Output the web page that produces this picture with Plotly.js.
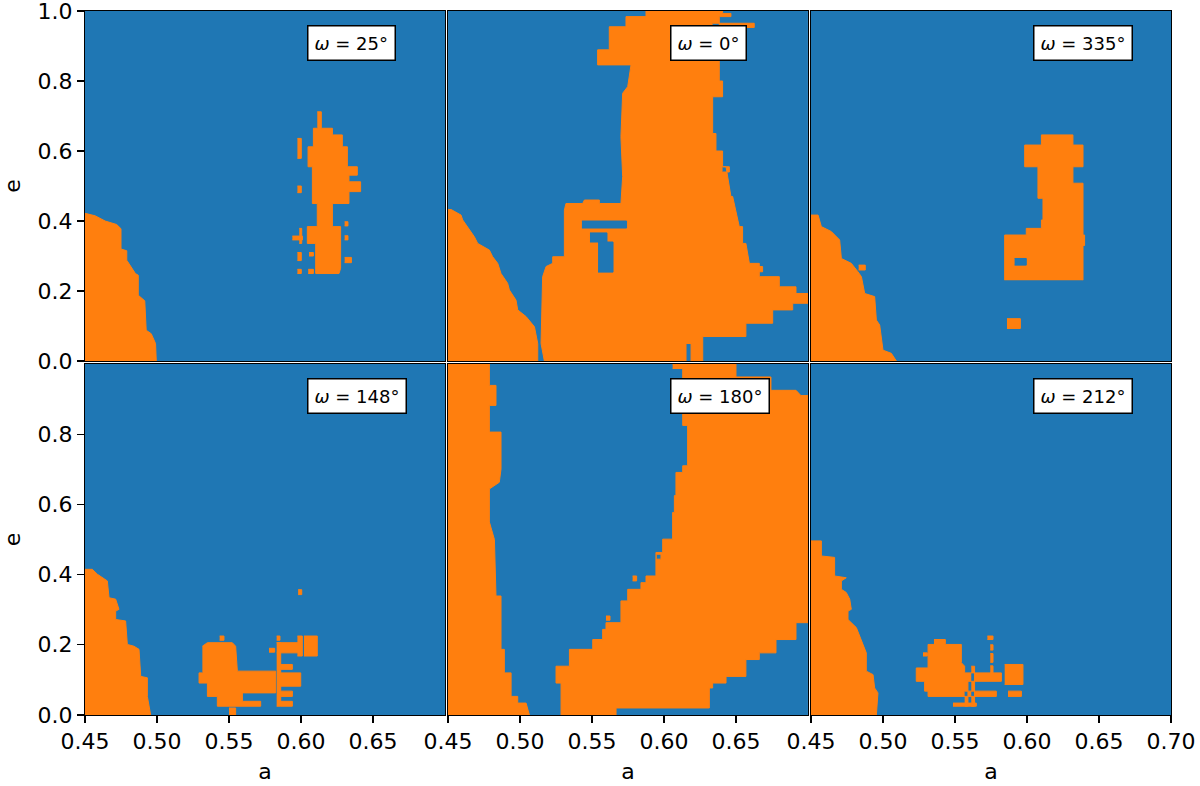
<!DOCTYPE html>
<html>
<head>
<meta charset="utf-8">
<script src="https://cdn.plot.ly/plotly-3.0.1.min.js"></script>
<style>html,body{margin:0;padding:0;background:#fff;}#chart{width:1200px;height:786px;}</style>
</head>
<body>
<div id="chart"></div>
<script>
// ---------- data: orange regions in (a, e) ----------
const omegas = [25, 0, 335, 148, 180, 212];
const xTicks = [0.45, 0.50, 0.55, 0.60, 0.65, 0.70];
const yTicksTop = [0.0, 0.2, 0.4, 0.6, 0.8, 1.0];
const yTicksBottom = [0.0, 0.2, 0.4, 0.6, 0.8];

// omega = 25
const P25_a = [0.45,0.45,0.457,0.464,0.472,0.475,0.475,0.479,0.479,0.485,0.487,0.487,0.4915,0.4925,0.496,0.499,0.4995,null,
  0.6113,0.6141,0.6141,0.6218,0.6218,0.6287,0.6287,0.6322,0.6322,0.6391,0.6391,0.6333,0.6333,0.6414,0.6414,0.6333,0.6333,0.6218,0.6218,0.6275,0.6275,0.6264,0.6102,0.6102,0.6044,0.6044,0.6113,0.6113,0.6079,0.6079,0.6049,0.6049,0.6086,0.6086,0.6113];
const P25_e = [0,0.422,0.415,0.40,0.39,0.378,0.32,0.315,0.288,0.25,0.245,0.188,0.172,0.088,0.078,0.05,0,null,
  0.712,0.712,0.665,0.665,0.646,0.646,0.612,0.612,0.555,0.555,0.531,0.531,0.512,0.512,0.484,0.484,0.45,0.45,0.384,0.384,0.265,0.25,0.25,0.336,0.336,0.384,0.384,0.45,0.45,0.555,0.555,0.612,0.612,0.665,0.665];
const R25 = [[0.5975,0.6002,0.579,0.636],[0.5975,0.6002,0.481,0.5],[0.594,0.601,0.346,0.357],[0.5988,0.6005,0.336,0.379],
  [0.5975,0.6002,0.287,0.31],[0.6056,0.6086,0.30,0.31],[0.5975,0.6002,0.25,0.262],[0.605,0.6086,0.25,0.262],
  [0.6303,0.6326,0.386,0.398],[0.6303,0.6326,0.346,0.358],[0.6303,0.635,0.281,0.296]];
const H25 = [];

// omega = 0
const P0_a = [0.45,0.45,0.4521,0.459,0.4602,0.4683,0.4706,0.4787,0.481,0.4845,0.4868,0.4914,0.4926,0.4972,0.4984,0.5042,0.51,0.5123,0.5123,null,
  0.5169,0.5146,0.5157,0.5181,0.5227,0.5227,0.5308,0.5308,0.5319,0.5435,0.5447,0.5551,0.5551,0.5701,0.5713,0.5701,0.5713,0.5748,0.5771,0.5539,0.5539,0.562,0.562,0.5736,0.5736,0.5875,0.5875,0.6407,0.6407,0.6465,0.6465,0.6384,0.6384,0.6407,0.6407,0.6338,0.6338,0.6361,0.6361,0.6407,0.6407,0.6431,0.6465,0.6477,0.6523,0.6546,0.6546,0.6569,0.6593,0.6662,0.6662,0.6801,0.6801,0.6917,0.6917,0.7,0.7,0.6894,0.6894,0.6755,0.6755,0.6569,0.6569,0.6269,0.6269,0.6188,0.6188,0.6153,0.6153];
const P0_e = [0,0.433,0.433,0.417,0.403,0.355,0.336,0.317,0.298,0.279,0.25,0.222,0.203,0.174,0.146,0.127,0.098,0.05,0,null,
  0,0.05,0.241,0.27,0.279,0.298,0.298,0.431,0.45,0.45,0.46,0.46,0.45,0.45,0.527,0.641,0.765,0.784,0.846,0.846,0.889,0.889,0.955,0.955,0.984,0.984,1,1,0.993,0.993,0.984,0.984,0.8,0.8,0.755,0.755,0.65,0.65,0.6,0.6,0.555,0.555,0.47,0.47,0.384,0.384,0.336,0.336,0.279,0.279,0.241,0.241,0.212,0.212,0.193,0.193,0.165,0.165,0.146,0.146,0.108,0.108,0.07,0.07,0,0,0.05,0.05,0];
const R0 = [[0.6338,0.6627,0.953,0.965],[0.6407,0.6454,0.54,0.555],[0.6662,0.6685,0.255,0.27]];
const H0 = [[0.543,0.574,0.38,0.40],[0.5486,0.5604,0.34,0.366],[0.5542,0.5646,0.254,0.34]];

// omega = 335
const P335_a = [0.45,0.45,0.4549,0.4572,0.4641,0.4699,0.4711,0.478,0.4826,0.485,0.4873,0.4942,0.4954,0.4977,0.5,0.5058,0.5093,null,
  0.5845,0.5845,0.5995,0.5995,0.61,0.61,0.6111,0.6111,0.6076,0.6076,0.5984,0.5984,0.61,0.61,0.6319,0.6319,0.6389,0.6389,0.6319,0.6319,0.6389,0.6389,0.64,0.64,0.6389,0.6389];
const P335_e = [0,0.417,0.417,0.384,0.37,0.346,0.293,0.279,0.255,0.241,0.193,0.184,0.117,0.103,0.031,0.022,0,null,
  0.231,0.36,0.36,0.379,0.379,0.403,0.403,0.465,0.465,0.555,0.555,0.617,0.617,0.646,0.646,0.617,0.617,0.555,0.555,0.508,0.508,0.36,0.36,0.33,0.33,0.231];
const R335 = [[0.4831,0.4877,0.26,0.274],[0.5861,0.5954,0.093,0.121]];
const H335 = [[0.5914,0.5995,0.274,0.293]];

// omega = 148
const P148_a = [0.45,0.45,0.4551,0.4586,0.4655,0.4667,0.4713,0.4736,0.4713,0.4713,0.4782,0.4794,0.484,0.4875,0.4887,0.4933,0.4933,0.4956,null,
  0.5315,0.535,0.5523,0.5546,0.5558,0.5824,0.5824,0.5593,0.5593,0.572,0.572,0.5419,0.5419,0.535,0.535,0.5292,0.5292,0.5315];
const P148_e = [0,0.415,0.415,0.401,0.382,0.334,0.33,0.301,0.296,0.272,0.268,0.201,0.196,0.187,0.11,0.106,0.053,0,null,
  0.196,0.206,0.206,0.196,0.125,0.125,0.063,0.063,0.039,0.039,0.025,0.025,0.053,0.053,0.091,0.091,0.12,0.12];
const R148 = [[0.5831,0.5859,0.025,0.206],[0.5831,0.5998,0.177,0.206],[0.5975,0.6009,0.168,0.225],[0.5859,0.594,0.13,0.144],
  [0.5859,0.5998,0.082,0.12],[0.5859,0.594,0.053,0.068],[0.5859,0.594,0.025,0.039],[0.6021,0.6113,0.168,0.225],
  [0.598,0.6005,0.343,0.357],[0.5778,0.5817,0.179,0.19],[0.5831,0.5854,0.213,0.225],[0.55,0.5546,0,0.02],[0.5435,0.5465,0.213,0.225]];
const H148 = [];

// omega = 180
const P180_a = [0.45,0.45,0.4787,0.4787,0.4833,0.4833,0.4787,0.4787,0.4868,0.4868,0.4856,0.4787,0.4787,0.4822,0.4833,0.4868,0.4868,0.4891,0.4891,0.4938,0.4938,0.4984,0.4984,0.5042,0.5065,null,
  0.606,0.65,0.65,0.6743,0.6743,0.6917,0.6951,0.7,0.7,0.6917,0.6917,0.6778,0.6778,0.6662,0.6662,0.6569,0.6569,0.6431,0.6431,0.6338,0.6338,0.6315,0.6315,0.5667,0.5667,0.5285,0.5285,0.525,0.525,0.5343,0.5343,0.5505,0.5505,0.5574,0.5574,0.5597,0.5597,0.5701,0.5701,0.5748,0.5748,0.584,0.584,0.5875,0.5875,0.5944,0.5944,0.5991,0.5991,0.606,0.606,0.6072,0.6072,0.6083,0.6083,0.613,0.613,0.6164,0.6164,0.613,0.613,0.606];
const P180_e = [0,1,1,0.939,0.939,0.882,0.882,0.806,0.806,0.701,0.663,0.644,0.55,0.5,0.339,0.339,0.187,0.187,0.12,0.12,0.053,0.053,0.034,0.034,0,null,
  1,1,0.963,0.963,0.925,0.925,0.91,0.91,0.263,0.263,0.215,0.215,0.177,0.177,0.158,0.158,0.11,0.11,0.091,0.091,0.077,0.077,0.02,0.02,0,0,0.091,0.091,0.139,0.139,0.187,0.187,0.215,0.215,0.244,0.244,0.263,0.263,0.325,0.325,0.358,0.358,0.377,0.377,0.396,0.396,0.463,0.463,0.501,0.501,0.577,0.577,0.625,0.625,0.691,0.691,0.71,0.71,0.825,0.825,0.987,0.987];
const R180 = [[0.5782,0.581,0.382,0.396],[0.5949,0.5979,0.444,0.458],[0.5597,0.5625,0.27,0.282]];
const H180 = [];

// omega = 212
const P212_a = [0.45,0.45,0.4572,0.4572,0.4664,0.4664,0.4745,0.4711,0.4711,0.4745,0.4769,0.478,0.4757,0.4757,0.4815,0.4838,0.4861,0.4884,0.4884,0.4931,0.4942,0.4965,0.4954,null,
  0.5354,0.5433,0.5433,0.5544,0.5544,0.5567,0.5567,0.5822,0.5822,0.5567,0.5567,0.5787,0.5787,0.5313,0.5313,0.5289,0.5289,0.5231,0.5231,0.5313,0.5313,0.5354];
const P212_e = [0,0.496,0.496,0.453,0.449,0.396,0.391,0.382,0.358,0.349,0.33,0.301,0.296,0.272,0.249,0.225,0.201,0.177,0.125,0.115,0.077,0.063,0,null,
  0.215,0.215,0.201,0.201,0.149,0.139,0.12,0.12,0.096,0.096,0.068,0.068,0.053,0.053,0.068,0.068,0.096,0.096,0.134,0.134,0.201,0.201];
const R212 = [[0.5486,0.5648,0.025,0.034],[0.5567,0.559,0.025,0.096],[0.5613,0.5636,0.025,0.139],[0.5745,0.5764,0.12,0.14],
  [0.5745,0.5764,0.15,0.175],[0.5745,0.5764,0.185,0.2],[0.5725,0.5764,0.215,0.225],[0.5845,0.5972,0.087,0.144],
  [0.5868,0.5961,0.053,0.068],[0.5278,0.5308,0.168,0.177]];
const H212 = [];

// ---------- build ----------
const BLUE = '#1f77b4', ORANGE = '#ff7f0e';
const panels = [
  {a: P25_a, e: P25_e, r: R25, h: H25},
  {a: P0_a, e: P0_e, r: R0, h: H0},
  {a: P335_a, e: P335_e, r: R335, h: H335},
  {a: P148_a, e: P148_e, r: R148, h: H148},
  {a: P180_a, e: P180_e, r: R180, h: H180},
  {a: P212_a, e: P212_e, r: R212, h: H212}
];

function rectsToPath(rects) {
  const xs = [], ys = [];
  rects.forEach(r => {
    xs.push(r[0], r[1], r[1], r[0], null);
    ys.push(r[2], r[2], r[3], r[3], null);
  });
  return {xs, ys};
}

const traces = [];
panels.forEach((p, i) => {
  const xa = 'x' + (i === 0 ? '' : i + 1), ya = 'y' + (i === 0 ? '' : i + 1);
  const rr = rectsToPath(p.r);
  traces.push({
    type: 'scatter', mode: 'lines', xaxis: xa, yaxis: ya,
    x: p.a.concat([null], rr.xs), y: p.e.concat([null], rr.ys),
    fill: 'toself', fillcolor: ORANGE, line: {color: ORANGE, width: 1},
    hoverinfo: 'skip', showlegend: false
  });
  if (p.h.length) {
    const hh = rectsToPath(p.h);
    traces.push({
      type: 'scatter', mode: 'lines', xaxis: xa, yaxis: ya,
      x: hh.xs, y: hh.ys, fill: 'toself', fillcolor: BLUE, line: {color: BLUE, width: 1},
      hoverinfo: 'skip', showlegend: false
    });
  }
});

const FONT = 'DejaVu Sans, sans-serif';
const xDom = [[0, 0.3315], [0.3343, 0.6657], [0.6685, 1]];
const yDom = [[0.5028, 1], [0, 0.4986]];
const layout = {
  width: 1200, height: 786,
  margin: {l: 85, r: 29, t: 11, b: 71},
  paper_bgcolor: '#ffffff', plot_bgcolor: BLUE,
  font: {family: FONT, size: 22, color: '#000'},
  showlegend: false,
  annotations: []
};
for (let i = 0; i < 6; i++) {
  const col = i % 3, row = Math.floor(i / 3);
  const sfx = i === 0 ? '' : String(i + 1);
  const bottom = row === 1, left = col === 0;
  const xt = col === 2 ? xTicks : xTicks.slice(0, 5);
  layout['xaxis' + sfx] = {
    domain: xDom[col], anchor: 'y' + sfx, range: [0.45, 0.70],
    showgrid: false, zeroline: false, showline: true, mirror: true,
    linecolor: '#000', linewidth: 1,
    ticks: bottom ? 'outside' : '', ticklen: 7, tickwidth: 1.2, tickcolor: '#000',
    tickvals: bottom ? xt : [], ticktext: bottom ? xt.map(v => v.toFixed(2)) : [],
    showticklabels: bottom, tickfont: {family: FONT, size: 22},
    ticklabeloverflow: 'allow',
    title: bottom ? {text: 'a', font: {family: FONT, size: 22}, standoff: 10} : {text: ''},
    fixedrange: true
  };
  const yt = row === 0 ? yTicksTop : yTicksBottom;
  layout['yaxis' + sfx] = {
    domain: yDom[row], anchor: 'x' + sfx, range: [0, 1],
    showgrid: false, zeroline: false, showline: true, mirror: true,
    linecolor: '#000', linewidth: 1,
    ticks: left ? 'outside' : '', ticklen: 7, tickwidth: 1.2, tickcolor: '#000',
    tickvals: left ? yt : [], ticktext: left ? yt.map(v => v.toFixed(1)) : [],
    showticklabels: left, tickfont: {family: FONT, size: 22},
    ticklabeloverflow: 'allow',
    title: left ? {text: 'e', font: {family: FONT, size: 22}, standoff: 14} : {text: ''},
    fixedrange: true
  };
  layout.annotations.push({
    xref: 'x' + sfx, yref: 'y' + sfx, x: 0.6042, y: 0.96,
    xanchor: 'left', yanchor: 'top', showarrow: false,
    text: '<i>ω</i> = ' + omegas[i] + '°',
    font: {family: FONT, size: 18, color: '#000'},
    bgcolor: '#ffffff', bordercolor: '#000', borderwidth: 1.5, borderpad: 6
  });
}

Plotly.newPlot('chart', traces, layout, {displayModeBar: false, staticPlot: true});
</script>
</body>
</html>
